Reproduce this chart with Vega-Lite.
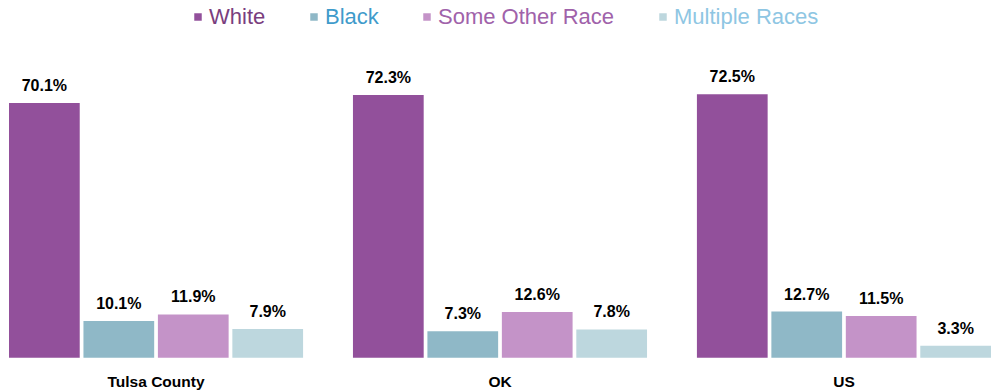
{
  "$schema": "https://vega.github.io/schema/vega-lite/v6.json",
  "width": 982,
  "height": 286,
  "autosize": {"type": "none"},
  "padding": {"left": 9, "right": 0, "top": 67, "bottom": 38},
  "background": "white",
  "config": {"view": {"stroke": null}},
  "data": {
    "values": [
      {"area": "Tulsa County", "race": "White", "pct": 70.1},
      {"area": "Tulsa County", "race": "Black", "pct": 10.1},
      {"area": "Tulsa County", "race": "Some Other Race", "pct": 11.9},
      {"area": "Tulsa County", "race": "Multiple Races", "pct": 7.9},
      {"area": "OK", "race": "White", "pct": 72.3},
      {"area": "OK", "race": "Black", "pct": 7.3},
      {"area": "OK", "race": "Some Other Race", "pct": 12.6},
      {"area": "OK", "race": "Multiple Races", "pct": 7.8},
      {"area": "US", "race": "White", "pct": 72.5},
      {"area": "US", "race": "Black", "pct": 12.7},
      {"area": "US", "race": "Some Other Race", "pct": 11.5},
      {"area": "US", "race": "Multiple Races", "pct": 3.3}
    ]
  },
  "transform": [{"calculate": "format(datum.pct, '.1f') + '%'", "as": "label"}],
  "encoding": {
    "x": {
      "field": "area", "type": "nominal", "sort": ["Tulsa County", "OK", "US"],
      "scale": {"paddingInner": 0.145, "paddingOuter": 0},
      "axis": {"title": null, "labelAngle": 0, "domain": false, "ticks": false, "grid": false, "labelPadding": 21,
               "labelFont": "Liberation Sans", "labelFontWeight": "bold", "labelFontSize": 15.5, "labelColor": "#000000"}
    },
    "xOffset": {
      "field": "race", "type": "nominal", "sort": ["White", "Black", "Some Other Race", "Multiple Races"],
      "scale": {"paddingInner": 0.05, "paddingOuter": 0}
    },
    "y": {"field": "pct", "type": "quantitative", "scale": {"domain": [1.3, 80], "zero": false}, "axis": null}
  },
  "layer": [
    {
      "mark": {"type": "bar"},
      "encoding": {
        "color": {
          "field": "race", "type": "nominal",
          "scale": {"domain": ["White", "Black", "Some Other Race", "Multiple Races"], "range": ["#92509B", "#8FB8C7", "#C493C8", "#BDD7DE"]},
          "legend": {
            "orient": "none", "legendX": 178, "legendY": -61, "direction": "horizontal", "title": null,
            "symbolType": "square", "symbolSize": 56, "symbolStrokeWidth": 0,
            "labelFont": "Liberation Sans", "labelFontSize": 22, "labelOffset": 0, "columnPadding": 37, "labelLimit": 400,
            "labelColor": {"expr": "datum.value === 'White' ? '#7A3E7E' : datum.value === 'Black' ? '#3F9BCB' : datum.value === 'Some Other Race' ? '#A062AA' : '#8EC6E3'"}
          }
        }
      }
    },
    {
      "mark": {"type": "text", "baseline": "bottom", "dy": -9, "font": "Liberation Sans", "fontWeight": "bold", "fontSize": 16, "color": "#000000"},
      "encoding": {"text": {"field": "label", "type": "nominal"}}
    }
  ]
}
